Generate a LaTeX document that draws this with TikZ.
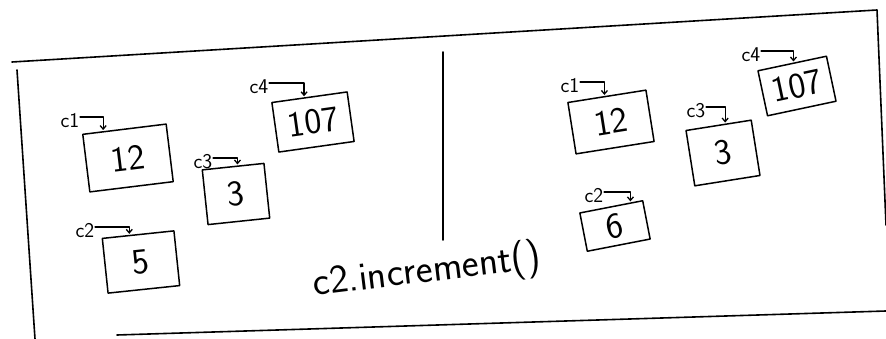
\documentclass[tikz,border=0pt]{standalone}
\usepackage{fontspec}
\usetikzlibrary{arrows.meta,calc}
\begin{document}
\begin{tikzpicture}[x=1pt,y=-1pt,line width=1.5pt,line cap=round,line join=round,
  valbox/.style={draw,font=\sffamily\fontsize{36}{36}\selectfont,inner sep=0pt},
  reflab/.style={font=\sffamily\fontsize{21}{21}\selectfont,inner sep=0pt},
  ptr/.style={line width=1.3pt,-{Straight Barb[length=3.5pt,width=6pt]},shorten >=1pt},
  frame/.style={line width=1.6pt}]
\useasboundingbox (0,0) rectangle (886,339);
% frame
\coordinate (tl) at (12,62);
\coordinate (tr) at (877,10);
\coordinate (rb) at (886,225);
\coordinate (lt) at (17,70);
\coordinate (lb) at (35,339);
\coordinate (bl) at (117,335);
\coordinate (br) at (886,311);
\coordinate (dt) at (443,52);
\coordinate (db) at (443,240);
\draw[frame] (tl) -- (tr) -- (rb);
\draw[frame] (lt) -- (lb);
\draw[frame] (bl) -- (br);
\draw[frame] (dt) -- (db);
% left side
\node[valbox,minimum width=84,minimum height=58,rotate=7] (L12) at (128,158) {12};
\node[valbox,minimum width=62,minimum height=55,rotate=6] (L3) at (236,194) {3};
\node[valbox,minimum width=76,minimum height=50,rotate=8] (L107) at (313,122) {107};
\node[valbox,minimum width=72,minimum height=55,rotate=6] (L5) at (141,262) {5};
\node[reflab] (LA1) at (70,121) {c1};
\node[reflab] (LA2) at (85,231) {c2};
\node[reflab] (LA3) at (203,162) {c3};
\node[reflab] (LA4) at (259,87) {c4};
\draw[ptr] ([yshift=4pt]LA1.east) -| ($(L12.north west)!0.25!(L12.north east)$);
\draw[ptr] ([yshift=4pt]LA2.east) -| ($(L5.north west)!0.38!(L5.north east)$);
\draw[ptr] ([yshift=4pt]LA3.east) -| ($(L3.north west)!0.57!(L3.north east)$);
\draw[ptr] ([yshift=4pt]LA4.east) -| ($(L107.north west)!0.43!(L107.north east)$);
% right side
\node[valbox,minimum width=79,minimum height=52,rotate=9] (R12) at (611,122) {12};
\node[valbox,minimum width=66,minimum height=56,rotate=9] (R3) at (723,153) {3};
\node[valbox,minimum width=70,minimum height=46,rotate=12] (R107) at (797,86) {107};
\node[valbox,minimum width=64,minimum height=39,rotate=11] (R6) at (615,226) {6};
\node[reflab] (RA1) at (570,86) {c1};
\node[reflab] (RA2) at (594,196) {c2};
\node[reflab] (RA3) at (696,111) {c3};
\node[reflab] (RA4) at (751,55) {c4};
\draw[ptr] ([yshift=4pt]RA1.east) -| ($(R12.north west)!0.47!(R12.north east)$);
\draw[ptr] ([yshift=4pt]RA2.east) -| ($(R6.north west)!0.8!(R6.north east)$);
\draw[ptr] ([yshift=4pt]RA3.east) -| ($(R3.north west)!0.6!(R3.north east)$);
\draw[ptr] ([yshift=4pt]RA4.east) -| ($(R107.north west)!0.52!(R107.north east)$);
% call
\node[font=\sffamily\fontsize{40}{40}\selectfont,rotate=7,inner sep=0pt] (cmd) at (427,272) {c2.increment()};
\end{tikzpicture}
\end{document}
